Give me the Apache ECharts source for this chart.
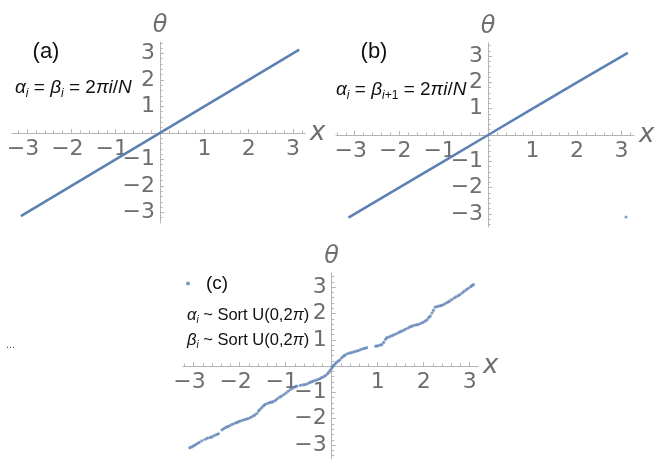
<!DOCTYPE html>
<html>
<head>
<meta charset="utf-8">
<script src="https://cdn.jsdelivr.net/npm/echarts@6/dist/echarts.min.js"></script>
<style>
html, body { margin: 0; padding: 0; background: #ffffff; }
#chart { width: 656px; height: 459px; }
</style>
</head>
<body>
<div id="chart"></div>
<script>
// (a) alpha_i = beta_i = 2*pi*i/N : theta runs along the diagonal
const xA = [-3.14, -2, -1, 0, 1, 2, 3.14];
const thetaA = [-3.14, -2, -1, 0, 1, 2, 3.14];

// (b) alpha_i = beta_{i+1} = 2*pi*i/N : same diagonal, last site wraps to -pi
const xB = [-3.14, -2, -1, 0, 1, 2, 3.14];
const thetaB = [-3.14, -2, -1, 0, 1, 2, 3.12];
const xBWrap = [3.10];
const thetaBWrap = [-3.12];

// (c) alpha_i, beta_i ~ Sort U(0, 2pi)
const xC = [
  -3.08, -3.04, -3.00, -2.96, -2.92, -2.88, -2.82, -2.75, -2.70, -2.64, -2.60, -2.55, -2.50, -2.46,
  -2.38, -2.34, -2.30, -2.26, -2.22, -2.17, -2.12, -2.07, -2.03, -1.99, -1.94, -1.89, -1.85, -1.81,
  -1.76, -1.71, -1.67, -1.63, -1.59, -1.56, -1.52, -1.48, -1.45, -1.40, -1.35, -1.31, -1.27, -1.22,
  -1.18, -1.13, -1.09, -1.04, -0.99, -0.94, -0.89, -0.84, -0.79, -0.76, -0.68, -0.62, -0.58, -0.53,
  -0.48, -0.44, -0.40, -0.35, -0.30, -0.26, -0.22, -0.17, -0.13, -0.09, -0.06, -0.03, 0.00, 0.02,
  0.04, 0.07, 0.10, 0.14, 0.18, 0.22, 0.26, 0.29, 0.34, 0.39, 0.43, 0.48, 0.53, 0.58, 0.63, 0.68,
  0.72, 0.76, 0.96, 1.00, 1.05, 1.09, 1.13, 1.17, 1.20, 1.25, 1.30, 1.34, 1.39, 1.44, 1.48, 1.52,
  1.57, 1.61, 1.66, 1.70, 1.74, 1.79, 1.84, 1.88, 1.93, 1.98, 2.03, 2.07, 2.11, 2.14, 2.18, 2.21,
  2.25, 2.30, 2.35, 2.39, 2.43, 2.48, 2.52, 2.56, 2.61, 2.66, 2.70, 2.75, 2.79, 2.84, 2.88, 2.93,
  2.97, 3.02, 3.05, 3.08
];
const thetaC = [
  -3.10, -3.07, -3.03, -2.99, -2.94, -2.90, -2.84, -2.78, -2.74, -2.71, -2.69, -2.64, -2.60, -2.57,
  -2.42, -2.37, -2.33, -2.30, -2.27, -2.22, -2.18, -2.15, -2.12, -2.09, -2.06, -2.03, -2.01, -1.99,
  -1.95, -1.90, -1.86, -1.80, -1.71, -1.65, -1.58, -1.51, -1.46, -1.42, -1.39, -1.37, -1.35, -1.30,
  -1.24, -1.18, -1.14, -1.08, -1.02, -0.95, -0.88, -0.83, -0.78, -0.76, -0.73, -0.71, -0.70, -0.67,
  -0.63, -0.60, -0.57, -0.54, -0.51, -0.48, -0.44, -0.40, -0.35, -0.29, -0.23, -0.16, -0.08, -0.02,
  0.02, 0.08, 0.13, 0.19, 0.24, 0.32, 0.38, 0.42, 0.47, 0.50, 0.51, 0.54, 0.57, 0.59, 0.63, 0.66,
  0.68, 0.70, 0.76, 0.77, 0.80, 0.82, 0.90, 1.02, 1.08, 1.11, 1.15, 1.18, 1.22, 1.26, 1.30, 1.33,
  1.37, 1.41, 1.45, 1.49, 1.52, 1.55, 1.57, 1.58, 1.62, 1.66, 1.71, 1.76, 1.84, 1.90, 2.02, 2.12,
  2.24, 2.27, 2.29, 2.31, 2.34, 2.39, 2.43, 2.47, 2.53, 2.59, 2.63, 2.68, 2.72, 2.79, 2.85, 2.91,
  2.96, 3.02, 3.06, 3.10
];

// Labelled tick positions on every axis
const tickValues = [-3, -2, -1, 1, 2, 3];

const BLUE = '#5e81b5';
const AXIS_GREY = '#b4b4b4';
const LABEL_GREY = '#6e6e6e';
const FONT = 'Liberation Sans, Arial, sans-serif';
const TICK_FONT = 'DejaVu Sans, sans-serif';
const TICK_SIZE = 22;

// Frame of each panel (pixels) and its axis extents
const panels = [
  { left: 12,  top: 42,  width: 293, height: 181, xr: [-3.34, 3.27], yr: [-3.40, 3.43] },
  { left: 336, top: 43,  width: 298, height: 184, xr: [-3.42, 3.28], yr: [-3.50, 3.50] },
  { left: 183, top: 273, width: 295, height: 186, xr: [-3.23, 3.18], yr: [-3.53, 3.54] }
];

function minorValues(range) {
  const out = [];
  for (let k = -40; k <= 40; k++) {
    const v = k / 5;
    if (k % 5 === 0) continue;
    if (v > range[0] && v < range[1]) out.push(v);
  }
  return out;
}

function pairs(xs, ys) {
  return xs.map((x, i) => [x, ys[i]]);
}

const grid = [], xAxis = [], yAxis = [];
panels.forEach((p, i) => {
  grid.push({ left: p.left, top: p.top, width: p.width, height: p.height, outerBoundsMode: 'none', containLabel: false });
  // distances from the frame edges to the crossing point of the axes
  const zeroFromLeft = p.width * (0 - p.xr[0]) / (p.xr[1] - p.xr[0]);
  const zeroFromTop = p.height * p.yr[1] / (p.yr[1] - p.yr[0]);
  // main x axis: line, major ticks, labels, name
  xAxis.push({
    type: 'value', gridIndex: i, min: p.xr[0], max: p.xr[1], position: 'bottom',
    offset: -(p.height - zeroFromTop),
    name: 'x', nameLocation: 'end', nameGap: 5,
    nameTextStyle: { fontSize: 26, fontStyle: 'italic', color: LABEL_GREY, fontFamily: TICK_FONT },
    axisLine: { show: true, onZero: false, lineStyle: { color: AXIS_GREY, width: 1 } },
    axisTick: { show: true, inside: true, length: 4, customValues: tickValues, lineStyle: { color: AXIS_GREY } },
    axisLabel: {
      show: true, customValues: tickValues, margin: 5, hideOverlap: false,
      fontSize: TICK_SIZE, color: LABEL_GREY, fontFamily: TICK_FONT,
      formatter: v => v < 0 ? '{n|\u2212' + (-v) + '}' : String(v),
      rich: { n: { fontSize: TICK_SIZE, color: LABEL_GREY, fontFamily: TICK_FONT, padding: [0, 8, 0, 0] } }
    },
    splitLine: { show: false }
  });
  // companion x axis carrying the minor ticks
  xAxis.push({
    type: 'value', gridIndex: i, min: p.xr[0], max: p.xr[1], position: 'top',
    offset: -zeroFromTop,
    axisLine: { show: false, onZero: false },
    axisTick: { show: true, inside: false, length: 2.5, customValues: minorValues(p.xr), lineStyle: { color: AXIS_GREY } },
    axisLabel: { show: false },
    splitLine: { show: false }
  });
  yAxis.push({
    type: 'value', gridIndex: i, min: p.yr[0], max: p.yr[1], position: 'left',
    offset: -zeroFromLeft,
    name: '\u03b8', nameLocation: 'end', nameGap: 4,
    nameTextStyle: { fontSize: 24, fontStyle: 'italic', color: LABEL_GREY, fontFamily: TICK_FONT },
    axisLine: { show: true, onZero: false, lineStyle: { color: AXIS_GREY, width: 1 } },
    axisTick: { show: true, inside: true, length: 4, customValues: tickValues, lineStyle: { color: AXIS_GREY } },
    axisLabel: {
      show: true, customValues: tickValues, margin: 5, hideOverlap: false,
      fontSize: TICK_SIZE, color: LABEL_GREY, fontFamily: TICK_FONT,
      formatter: v => v < 0 ? '\u2212' + (-v) : String(v)
    },
    splitLine: { show: false }
  });
  yAxis.push({
    type: 'value', gridIndex: i, min: p.yr[0], max: p.yr[1], position: 'right',
    offset: -(p.width - zeroFromLeft),
    axisLine: { show: false, onZero: false },
    axisTick: { show: true, inside: false, length: 2.5, customValues: minorValues(p.yr), lineStyle: { color: AXIS_GREY } },
    axisLabel: { show: false },
    splitLine: { show: false }
  });
});

function richFor(size) {
  const sub = Math.round(size * 0.62);
  return {
    m: { fontSize: size, fontStyle: 'italic', fontFamily: FONT, lineHeight: size + 4, fill: '#111' },
    t: { fontSize: size, fontFamily: FONT, lineHeight: size + 4, fill: '#111' },
    s: { fontSize: sub, fontStyle: 'italic', fontFamily: FONT, lineHeight: sub, verticalAlign: 'bottom', fill: '#111' },
    u: { fontSize: sub, fontFamily: FONT, lineHeight: sub, verticalAlign: 'bottom', fill: '#111' }
  };
}

function formula(x, y, size, text) {
  return {
    type: 'text', x: x, y: y, z: 10,
    style: { text: text, rich: richFor(size), fontSize: size, fontFamily: FONT, fill: '#111', verticalAlign: 'middle', align: 'left' }
  };
}

const option = {
  animation: false,
  backgroundColor: '#ffffff',
  grid: grid,
  xAxis: xAxis,
  yAxis: yAxis,
  legend: {
    data: ['(c)'], left: 186, top: 274, icon: 'circle', itemWidth: 4, itemHeight: 4,
    padding: 0, selectedMode: false,
    textStyle: { fontSize: 19, color: '#111', fontFamily: FONT, padding: [0, 0, 0, 11] }
  },
  graphic: [
    { type: 'text', x: 46, y: 52, style: { text: '(a)', fontSize: 22, fill: '#111', fontFamily: FONT, align: 'center', verticalAlign: 'middle' } },
    { type: 'text', x: 374, y: 52, style: { text: '(b)', fontSize: 22, fill: '#111', fontFamily: FONT, align: 'center', verticalAlign: 'middle' } },
    formula(15, 88, 19, '{m|\u03b1}{s|i}{t| = }{m|\u03b2}{s|i}{t| = 2}{m|\u03c0i}{t|/}{m|N}'),
    formula(336, 90, 19, '{m|\u03b1}{s|i}{t| = }{m|\u03b2}{s|i}{u|+1}{t| = 2}{m|\u03c0i}{t|/}{m|N}'),
    formula(187, 315, 16.5, '{m|\u03b1}{s|i}{t| ~ Sort U(0,2}{m|\u03c0}{t|)}'),
    formula(187, 340, 16.5, '{m|\u03b2}{s|i}{t| ~ Sort U(0,2}{m|\u03c0}{t|)}'),
    { type: 'text', x: 6, y: 345, style: { text: '...', fontSize: 11, fill: '#555', fontFamily: FONT, verticalAlign: 'middle' } }
  ],
  series: [
    {
      type: 'line', name: '(a)', xAxisIndex: 0, yAxisIndex: 0, data: pairs(xA, thetaA),
      showSymbol: false, lineStyle: { color: BLUE, width: 2.6 }, itemStyle: { color: BLUE }
    },
    {
      type: 'line', name: '(b)', xAxisIndex: 2, yAxisIndex: 2, data: pairs(xB, thetaB),
      showSymbol: false, lineStyle: { color: BLUE, width: 2.6 }, itemStyle: { color: BLUE }
    },
    {
      type: 'scatter', name: '(b) wrap', xAxisIndex: 2, yAxisIndex: 2, data: pairs(xBWrap, thetaBWrap),
      symbolSize: 3, itemStyle: { color: BLUE }
    },
    {
      type: 'scatter', name: '(c)', xAxisIndex: 4, yAxisIndex: 4, data: pairs(xC, thetaC),
      symbolSize: 3.2, itemStyle: { color: BLUE }
    }
  ]
};

const chart = echarts.init(document.getElementById('chart'), null, { renderer: 'canvas' });
chart.setOption(option);
</script>
</body>
</html>
